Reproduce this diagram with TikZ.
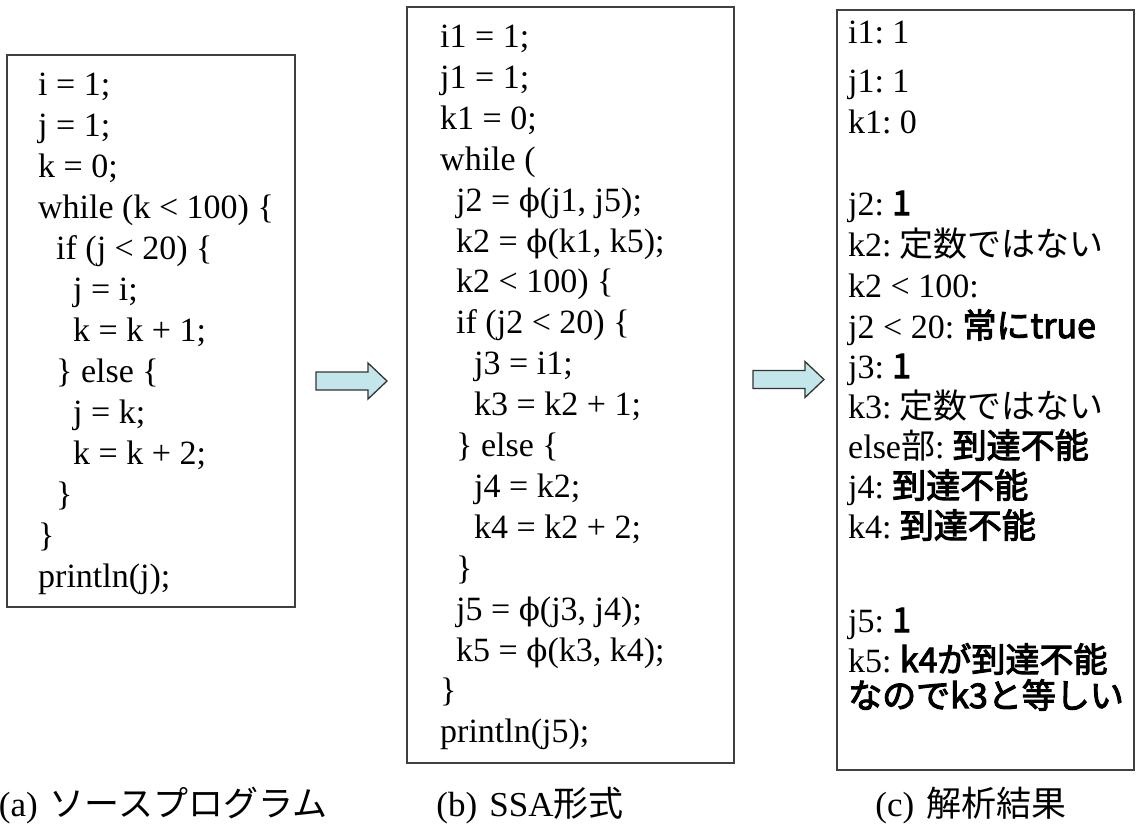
\documentclass[tikz,border=0pt]{standalone}
\usepackage{fontspec}
\setmainfont{Liberation Serif}
\newfontfamily\cjk{Noto Sans CJK JP}
\newfontfamily\cjkb[FakeBold=3]{Noto Sans CJK JP}
\newfontfamily\phifont{DejaVu Serif}
\newcommand\jb[1]{{\cjkb #1}}
\newcommand\jr[1]{{\cjk #1}}
\newcommand\myphi{{\phifont\fontsize{31}{41}\selectfont ϕ}}
\newcommand\cs{:\hspace{0.24em}}
\definecolor{boxgray}{HTML}{404040}
\definecolor{arrowfill}{RGB}{195,230,235}
\definecolor{arrowline}{HTML}{333333}
\begin{document}
\begin{tikzpicture}[x=1pt,y=-1pt,
  code/.style={anchor=base west, inner sep=0pt, font=\fontsize{34}{41}\selectfont},
  box/.style={draw=boxgray, line width=1.5pt, anchor=north west, inner sep=0pt, outer sep=0pt},
  blockarrow/.style={draw=arrowline, line width=1.3pt, fill=arrowfill, line join=miter},
  caption/.style={anchor=base, inner sep=0pt, font=\fontsize{35}{40}\selectfont}]
\useasboundingbox (0,0) rectangle (1139,825);

% boxes
\node[box, minimum width=288pt, minimum height=552pt] (boxa) at (7,55) {};
\node[box, minimum width=327pt, minimum height=756pt] (boxb) at (407,7) {};
\node[box, minimum width=297pt, minimum height=760pt] (boxc) at (837,10) {};

% (a) source program
\foreach \x/\y/\t [count=\n] in {
  38/95/{i = 1;},
  38/136/{j = 1;},
  38/177/{k = 0;},
  38/218/{while (k < 100) \{},
  56/259/{if (j < 20) \{},
  73/300/{j = i;},
  73/341/{k = k + 1;},
  56/382/{\} else \{},
  73/423/{j = k;},
  73/464/{k = k + 2;},
  56/505/{\}},
  38/546/{\}},
  38/587/{println(j);}}
  \node[code] (la\n) at (\x,\y) {\t};

% (b) SSA form
\foreach \x/\y/\t [count=\n] in {
  440/47/{i1 = 1;},
  440/88/{j1 = 1;},
  440/129/{k1 = 0;},
  440/170/{while (},
  456/211/{j2 = \myphi(j1, j5);},
  456/252/{k2 = \myphi(k1, k5);},
  456/292/{k2 < 100) \{},
  456/333/{if (j2 < 20) \{},
  474/374/{j3 = i1;},
  474/415/{k3 = k2 + 1;},
  456/456/{\} else \{},
  474/497/{j4 = k2;},
  474/538/{k4 = k2 + 2;},
  456/579/{\}},
  456/620/{j5 = \myphi(j3, j4);},
  456/661/{k5 = \myphi(k3, k4);},
  440/701/{\}},
  440/742/{println(j5);}}
  \node[code] (lb\n) at (\x,\y) {\t};

% (c) analysis result
\node[code] (lc1) at (848,43) {i1\cs 1};
\node[code] (lc2) at (848,92) {j1\cs 1};
\node[code] (lc3) at (848,133) {k1\cs 0};
\node[code] (lc4) at (848,215) {j2\cs \jb{1}};
\node[code] (lc5) at (848,256) {k2\cs \jr{定数ではない}};
\node[code] (lc6) at (848,297) {k2 < 100:};
\node[code] (lc7) at (848,338) {j2 < 20\cs \jb{常にtrue}};
\node[code] (lc8) at (848,378) {j3\cs \jb{1}};
\node[code] (lc9) at (848,418) {k3\cs \jr{定数ではない}};
\node[code] (lc10) at (848,458) {else\jr{部}\cs \jb{到達不能}};
\node[code] (lc11) at (848,498) {j4\cs \jb{到達不能}};
\node[code] (lc12) at (848,538) {k4\cs \jb{到達不能}};
\node[code] (lc13) at (848,632) {j5\cs \jb{1}};
\node[code] (lc14) at (848,672) {k5\cs \jb{k4が到達不能}};
\node[code] (lc15) at (848,708) {\jb{なのでk3と等しい}};

% block arrows
\coordinate (arr1) at (316,381);
\coordinate (arr2) at (753,379.5);
\foreach \c in {arr1,arr2}
  \draw[blockarrow] (\c) ++(0,-9) -- ++(52,0) -- ++(0,-9) -- ++(19,18)
    -- ++(-19,18) -- ++(0,-9) -- ++(-52,0) -- cycle;

% captions
\node[caption] (capa) at (163,816) {(a)\hspace{0.35em}\jr{ソースプログラム}};
\node[caption] (capb) at (530,816) {(b)\hspace{0.35em}SSA\jr{形式}};
\node[caption] (capc) at (971,816) {(c)\hspace{0.35em}\jr{解析結果}};
\end{tikzpicture}
\end{document}
